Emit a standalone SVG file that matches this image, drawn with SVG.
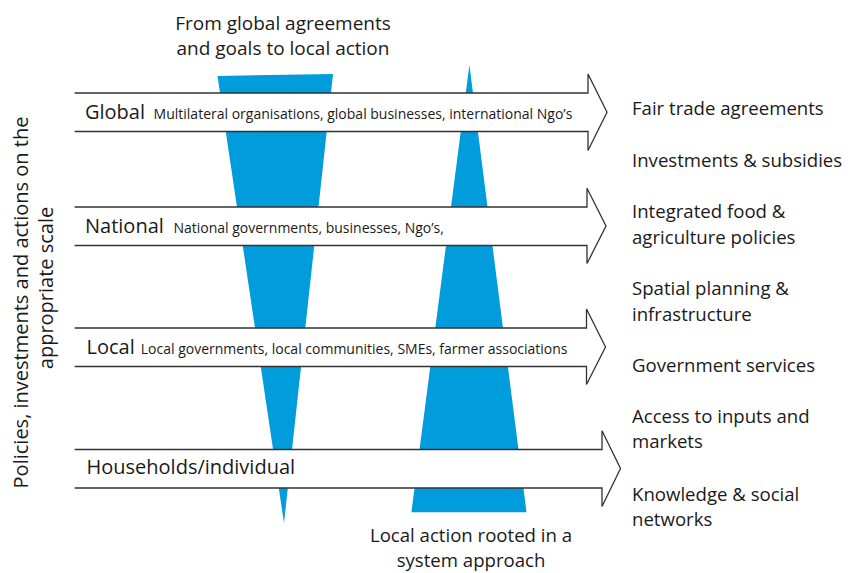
<svg xmlns="http://www.w3.org/2000/svg" width="857" height="573" viewBox="0 0 857 573">
<style>
.t{font-family:"Open Sans","Noto Sans","DejaVu Sans",sans-serif;fill:#1a1a1a;}
.big{font-size:18.6px;}
.lab{font-size:20px;}
.sm{font-size:14px;}
.band{fill:#ffffff;stroke:#333333;stroke-width:1.3;stroke-linejoin:miter;}
.blue{fill:#019cdc;}
</style>
<rect width="857" height="573" fill="#ffffff"/>
<g id="funnels">
<polygon class="blue" points="217.5,76 333,74 284,523"/>
<polygon class="blue" points="469.4,65 526.5,512.3 411.4,512.3"/>
</g>
<g id="connectors">
<path id="arrow-global" class="band" d="M74.6,93 H588 V74 L607,112.3 L588,150.5 V131.5 H74.6"/>
<path id="arrow-national" class="band" d="M74.6,207 H587 V188.3 L606,226 L587,263.5 V245.5 H74.6"/>
<path id="arrow-local" class="band" d="M74.6,328 H586.5 V309 L605.5,347 L586.5,384.5 V366.5 H74.6"/>
<path id="arrow-households" class="band" d="M74.6,449.5 H602 V430.7 L620.5,468.5 L602,506.5 V488 H74.6"/>
</g>
<g id="global">
<text class="t lab" x="85" y="118.5">Global</text>
<text class="t sm" x="153.6" y="118.5">Multilateral organisations, global businesses, international Ngo’s</text>
</g>
<g id="national">
<text class="t lab" x="85" y="232.5">National</text>
<text class="t sm" x="173.4" y="232.5">National governments, businesses, Ngo’s,</text>
</g>
<g id="local">
<text class="t lab" x="86.5" y="353.5">Local</text>
<text class="t sm" x="140.8" y="353.5">Local governments, local communities, SMEs, farmer associations</text>
</g>
<g id="households">
<text class="t lab" x="86.5" y="474">Households/individual</text>
</g>
<g id="top-label">
<text class="t" font-size="19" x="283" y="30" text-anchor="middle">From global agreements</text>
<text class="t" font-size="19" x="283" y="55" text-anchor="middle">and goals to local action</text>
</g>
<g id="bottom-label">
<text class="t big" x="471" y="542" text-anchor="middle">Local action rooted in a</text>
<text class="t big" x="471" y="567" text-anchor="middle">system approach</text>
</g>
<g id="side-label">
<text class="t" font-size="20" transform="translate(28,302.5) rotate(-90)" text-anchor="middle">Policies, investments and actions on the</text>
<text class="t" font-size="20" transform="translate(53,288) rotate(-90)" text-anchor="middle">appropriate scale</text>
</g>
<g id="outcomes">
<text class="t big" x="632" y="115">Fair trade agreements</text>
<text class="t big" x="632" y="167">Investments &amp; subsidies</text>
<text class="t big" x="632" y="218">Integrated food &amp;</text>
<text class="t big" x="632" y="244">agriculture policies</text>
<text class="t big" x="632" y="295">Spatial planning &amp;</text>
<text class="t big" x="632" y="321">infrastructure</text>
<text class="t big" x="632" y="371.5">Government services</text>
<text class="t big" x="632" y="422.5">Access to inputs and</text>
<text class="t big" x="632" y="448">markets</text>
<text class="t big" x="632" y="501">Knowledge &amp; social</text>
<text class="t big" x="632" y="525.5">networks</text>
</g>
</svg>
